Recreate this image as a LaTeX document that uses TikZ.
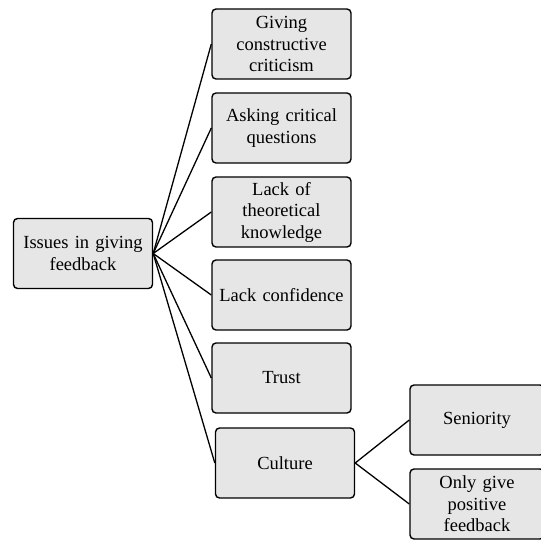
\documentclass[tikz,border=0pt]{standalone}
\usepackage{fontspec}
\setmainfont{Liberation Serif}
\begin{document}
\begin{tikzpicture}[x=1pt,y=-1pt,
  box/.style={draw=black, line width=1.4pt, rounded corners=4pt, fill=boxgray,
    minimum width=139pt, minimum height=70pt, align=center, inner sep=1pt,
    font=\fontsize{18.5}{21.5}\selectfont, text width=136pt},
  link/.style={line width=1.3pt}]
\definecolor{boxgray}{HTML}{E6E6E6}
\useasboundingbox (0,0) rectangle (541,540);
\node[box] (root) at (83,253.5) {Issues in giving\\feedback};
\node[box] (c1) at (281.5,44) {Giving\\constructive\\criticism};
\node[box] (c2) at (281.5,128) {Asking critical\\questions};
\node[box] (c3) at (281.5,212) {Lack of\\theoretical\\knowledge};
\node[box] (c4) at (281.5,295) {Lack confidence};
\node[box] (c5) at (281.5,378) {Trust};
\node[box] (c6) at (285,463) {Culture};
\node[box, minimum width=134pt, text width=130pt] (s1) at (477,420) {Seniority};
\node[box, minimum width=134pt, text width=130pt] (s2) at (477,504) {Only give\\positive\\feedback};
\foreach \c in {c1,c2,c3,c4,c5,c6}
  \draw[link] (root.east) -- (\c.west);
\draw[link] (c6.east) -- (s1.west);
\draw[link] (c6.east) -- (s2.west);
\end{tikzpicture}
\end{document}
